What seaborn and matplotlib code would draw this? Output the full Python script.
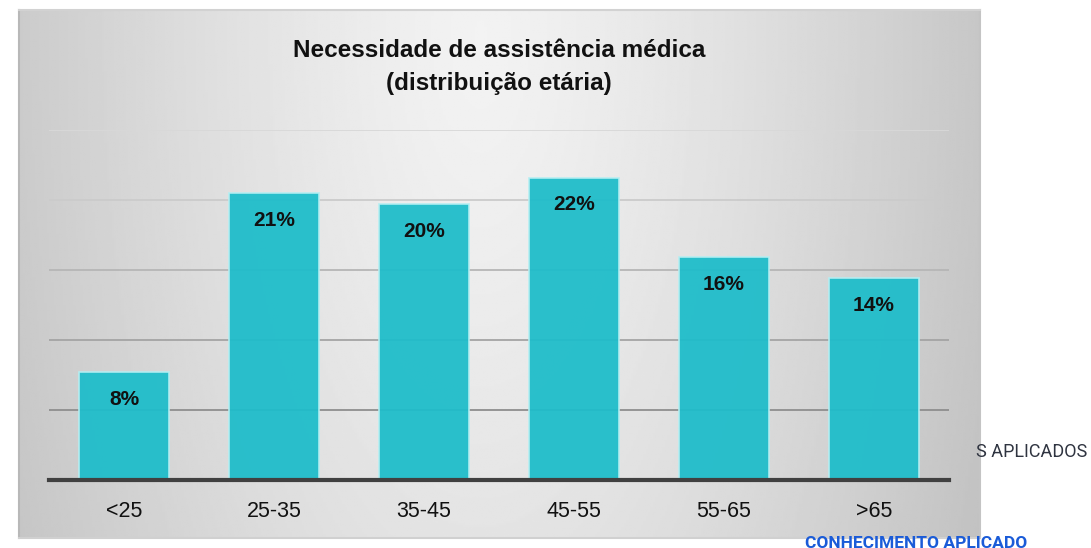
import numpy as np
import pandas as pd
import matplotlib
matplotlib.use("Agg")
import matplotlib.pyplot as plt
import seaborn as sns

faixas = ["<25", "25-35", "35-45", "45-55", "55-65", ">65"]
percentuais = [7.7, 20.5, 19.7, 21.6, 15.9, 14.4]
rotulos = ["8%", "21%", "20%", "22%", "16%", "14%"]

df = pd.DataFrame({"faixa": faixas, "pct": percentuais})

sns.set_theme(style="white")
plt.rcParams["font.family"] = ["Liberation Sans", "DejaVu Sans"]

W, H = 1091, 548
fig = plt.figure(figsize=(W / 100, H / 100), dpi=100)
fig.patch.set_facecolor("white")

# painel cinza com gradiente
bg = fig.add_axes([19 / W, 10 / H, 961 / W, 528 / H])
xx, yy = np.meshgrid(np.linspace(0, 1, 400), np.linspace(0, 1, 300))
d = np.sqrt(((xx - 0.48) / 0.52) ** 2 + ((yy - 0.05) / 2.2) ** 2)
val = np.clip(0.95 - 0.17 * d ** 1.3, 0, 1)
bg.imshow(val, cmap="gray", vmin=0, vmax=1, aspect="auto", extent=[0, 1, 1, 0])
bg.set_xticks([])
bg.set_yticks([])
for s, c in zip(["top", "left", "right", "bottom"], ["#d2d2d2", "#b8b8b8", "#c4c4c4", "#d0d0d0"]):
    bg.spines[s].set_color(c)
    bg.spines[s].set_linewidth(1.5)

ax = fig.add_axes([49 / W, 68 / H, 900 / W, 350 / H])
ax.set_facecolor("none")
sns.barplot(data=df, x="faixa", y="pct", color="#1fbdca", width=0.6,
            edgecolor="#b5eef2", linewidth=1.2, alpha=0.95, saturation=1, ax=ax, zorder=3)

ax.set_ylim(0, 25)
ax.set_xlim(-0.5, len(faixas) - 0.5)
ax.set_yticks([5, 10, 15, 20, 25])
ax.yaxis.grid(True, linewidth=1.3)
ax.set_axisbelow(True)
cores_grade = ["#8e8e8e", "#a4a4a4", "#b6b6b6", "#cbcbcb", "#d8d8d8"]
for gl, c in zip(ax.get_ygridlines(), cores_grade):
    gl.set_color(c)
ax.tick_params(axis="y", left=False, labelleft=False)
ax.tick_params(axis="x", bottom=False, labelsize=15.5, pad=9, colors="#111111")
ax.set_xlabel("")
ax.set_ylabel("")
for s in ["top", "left", "right"]:
    ax.spines[s].set_visible(False)
ax.spines["bottom"].set_color("#404040")
ax.spines["bottom"].set_linewidth(3)
ax.spines["bottom"].set_zorder(5)

for p, txt in zip(ax.patches, rotulos):
    ax.annotate(txt, (p.get_x() + p.get_width() / 2, p.get_height()),
                xytext=(0, -27), textcoords="offset pixels",
                ha="center", va="center", fontsize=15, fontweight="bold",
                color="#111111", zorder=6)

fig.text(499 / W, 1 - 67 / H, "Necessidade de assistência médica\n(distribuição etária)",
         ha="center", va="center", fontsize=17.5, fontweight="bold",
         color="#111111", linespacing=1.6)

# textos cortados à direita
fig.text(976 / W, 1 - 452 / H, "S APLICADOS", ha="left", va="center",
         fontsize=13, color="#2f3440", family=["Roboto", "DejaVu Sans"],
         zorder=0)
fig.text(805 / W, 1 - 544 / H, "CONHECIMENTO APLICADO", ha="left", va="center",
         fontsize=12.5, color="#1a5bd8", fontweight="bold",
         family=["Roboto", "DejaVu Sans"])

bg.set_zorder(0)
ax.set_zorder(1)

fig.savefig("out.png", dpi=100)
